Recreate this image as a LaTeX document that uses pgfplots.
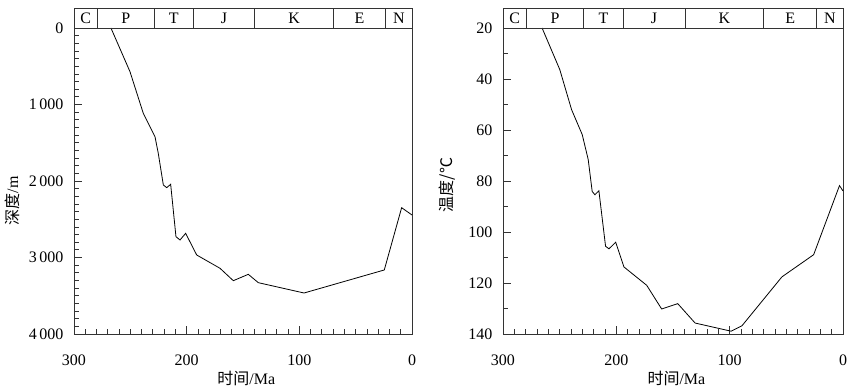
\documentclass[border=0pt]{standalone}
\usepackage{fontspec}
\setmainfont{Liberation Serif}
\newfontfamily\cjk{Noto Sans CJK SC}
\usepackage{pgfplots}
\pgfplotsset{compat=1.18}
\newcommand{\fs}{\fontsize{16bp}{18bp}\selectfont}
\tikzset{band/.style={line width=0.8bp, black!80}}
\pgfplotsset{
  common/.style={
    scale only axis,
    anchor=south west,
    x dir=reverse, xmin=0, xmax=300,
    xtick={0,100,200,300}, minor x tick num=9,
    tick align=inside, xtick pos=bottom, ytick pos=left,
    major tick length=8bp, minor tick length=5bp,
    y dir=reverse,
    clip=false,
    axis line style={black!80, line width=0.9bp},
    every tick/.style={black!80, line width=0.8bp},
    /pgf/number format/assume math mode=true,
    tick label style={font=\fs},
    xticklabel style={yshift=-17bp},
    yticklabel style={xshift=-7bp},
    label style={font=\fs},
    xlabel={{\cjk 时间}/Ma},
    xlabel style={at={(axis description cs:0.51,0)}, anchor=center, yshift=-44bp},
  },
}
\newcommand{\dv}[1]{\draw[band] ({axis cs:#1,0}|-{axis description cs:0,1}) -- ({axis cs:#1,0}|-{axis description cs:0,1.0654});}
\newcommand{\lb}[2]{\node[font=\fs, inner sep=0pt] at ({axis cs:#1,0}|-{axis description cs:0,1.0327}) {#2};}
\newcommand{\strat}{%
  \draw[band] (axis description cs:0,1) rectangle (axis description cs:1,1.0654);
  \dv{279.3}\dv{228.7}\dv{194.2}\dv{139.5}\dv{69.8}\dv{23.3}
  \lb{289.6}{C}\lb{254}{P}\lb{211.4}{T}\lb{166.8}{J}\lb{104.6}{K}\lb{46.5}{E}\lb{11.6}{N}
}
\begin{document}
\begin{tikzpicture}
\path[use as bounding box] (0,0) rectangle (850bp,386bp);
\begin{axis}[common,
  at={(74bp,52bp)}, width=338bp, height=306bp,
  ymin=0, ymax=4000, ytick={0,1000,...,4000}, minor y tick num=9,
  /pgf/number format/1000 sep={\,},
  ylabel={{\cjk 深度}/m},
  ylabel style={at={(axis description cs:-0.1834,0.435)}, anchor=center},
]
\addplot[black, line width=0.8bp] coordinates {
(267.2,0) (250.3,571) (238.5,1115) (228.1,1421) (225.2,1638) (220.7,2052)
(217.7,2087) (214.2,2043) (209.5,2728) (205.9,2771) (200.9,2684) (191.1,2967)
(170.4,3141) (158.6,3303) (145.3,3220) (136.4,3329) (95.8,3464) (24.6,3163)
(9.2,2349) (0,2444)};
\strat
\end{axis}
\begin{axis}[common,
  at={(503bp,52bp)}, width=340bp, height=306bp,
  ymin=20, ymax=140, ytick={20,40,...,140}, minor y tick num=1,
  ylabel={{\cjk 温度/℃}},
  ylabel style={at={(axis description cs:-0.1647,0.487)}, anchor=center},
]
\addplot[black, line width=0.8bp] coordinates {
(265.5,20) (249.9,36.3) (239.5,52) (230.1,61.8) (224.8,71.6) (221.3,84.1)
(218.9,85.4) (215.4,83.8) (209.5,105.6) (206.5,106.6) (200.6,104) (193.3,113.7)
(173.2,120.9) (160,130.2) (145.8,128.1) (130.5,135.7) (98.7,138.9) (89.2,136.8)
(53.9,117.6) (25.9,108.9) (3.1,81.8) (0,83.9)};
\strat
\end{axis}
\end{tikzpicture}
\end{document}
